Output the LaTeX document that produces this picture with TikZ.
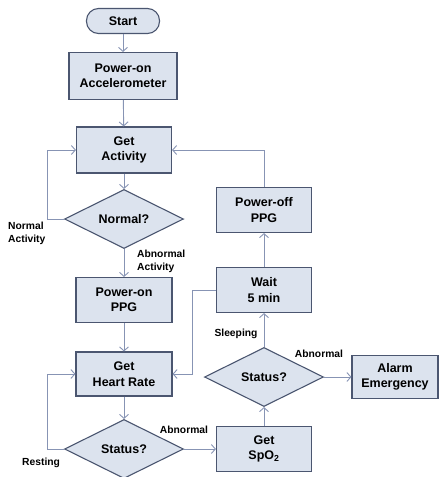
\documentclass[tikz,border=0pt]{standalone}
\usepackage{fontspec}
\setmainfont{Liberation Sans}
\usetikzlibrary{shapes.geometric,arrows.meta}
\definecolor{boxfill}{HTML}{DCE3EE}
\definecolor{boxline}{HTML}{4B5670}
\definecolor{flowline}{HTML}{8794B4}
\tikzset{
	stepbox/.style={rectangle,draw=boxline,fill=boxfill,line width=1.1pt,
		align=center,inner sep=1pt,font=\fontsize{12.5}{15.5}\selectfont\bfseries},
	termbox/.style={stepbox,rounded corners=12pt},
	decision/.style={diamond,draw=boxline,fill=boxfill,line width=1.1pt,aspect=2,
		inner sep=1pt,minimum width=119pt,minimum height=59pt,
		font=\fontsize{12.5}{15.5}\selectfont\bfseries},
	flow/.style={draw=flowline,line width=0.9pt,-{Straight Barb[length=4pt,width=9pt]}},
	lbl/.style={align=left,inner sep=0pt,font=\fontsize{10.3}{13}\selectfont\bfseries}
}
\begin{document}
\begin{tikzpicture}[x=1pt,y=-1pt]
	\useasboundingbox (0,0) rectangle (439,477);
	% left column
	\node[termbox,minimum width=73pt,minimum height=25pt] (start) at (123,21) {Start};
	\node[stepbox,minimum width=108pt,minimum height=47pt] (pwracc) at (123,76) {Power-on\\Accelerometer};
	\node[stepbox,minimum width=95pt,minimum height=46pt] (getact) at (124,150) {Get\\Activity};
	\node[decision] (normal) at (124,219) {Normal?};
	\node[stepbox,minimum width=96pt,minimum height=45pt] (pwrppg) at (124,300) {Power-on\\PPG};
	\node[stepbox,minimum width=96pt,minimum height=44pt] (gethr) at (124,374) {Get\\Heart Rate};
	\node[decision] (status) at (124,449) {Status?};
	% right column
	\node[stepbox,minimum width=95pt,minimum height=45pt] (getspo) at (264,449) {Get\\SpO\textsubscript{2}};
	\node[decision] (statusb) at (264,377) {Status?};
	\node[stepbox,minimum width=86pt,minimum height=43pt] (alarm) at (395,377) {Alarm\\Emergency};
	\node[stepbox,minimum width=95pt,minimum height=45pt] (wait) at (264,290) {Wait\\5 min};
	\node[stepbox,minimum width=95pt,minimum height=45pt] (pwroff) at (264,210) {Power-off\\PPG};
	% labels
	\node[lbl,anchor=west] (lblnorm) at (8,233) {Normal\\Activity};
	\node[lbl,anchor=west] (lblabact) at (137,261) {Abnormal\\Activity};
	\node[lbl,anchor=west] (lblrest) at (22,463) {Resting};
	\node[lbl] (lblabn) at (184,430) {Abnormal};
	\node[lbl] (lblsleep) at (236,334) {Sleeping};
	\node[lbl] (lblabnb) at (319,354) {Abnormal};
	% connectors
	\draw[flow] (start) -- (pwracc);
	\draw[flow] (pwracc) -- (getact);
	\draw[flow] (getact) -- (normal);
	\draw[flow] (normal.west) -- ++(-17,0) |- (getact.west);
	\draw[flow] (normal) -- (pwrppg);
	\draw[flow] (pwrppg) -- (gethr);
	\draw[flow] (gethr) -- (status);
	\draw[flow] (status.west) -- ++(-17,0) |- (gethr.west);
	\draw[flow] (status) -- (getspo);
	\draw[flow] (getspo) -- (statusb);
	\draw[flow] (statusb) -- (alarm);
	\draw[flow] (statusb) -- (wait);
	\draw[flow] (wait) -- (pwroff);
	\draw[flow] (pwroff.north) |- (getact.east);
	\draw[flow] (wait.west) -- ++(-24,0) |- (gethr.east);
\end{tikzpicture}
\end{document}
